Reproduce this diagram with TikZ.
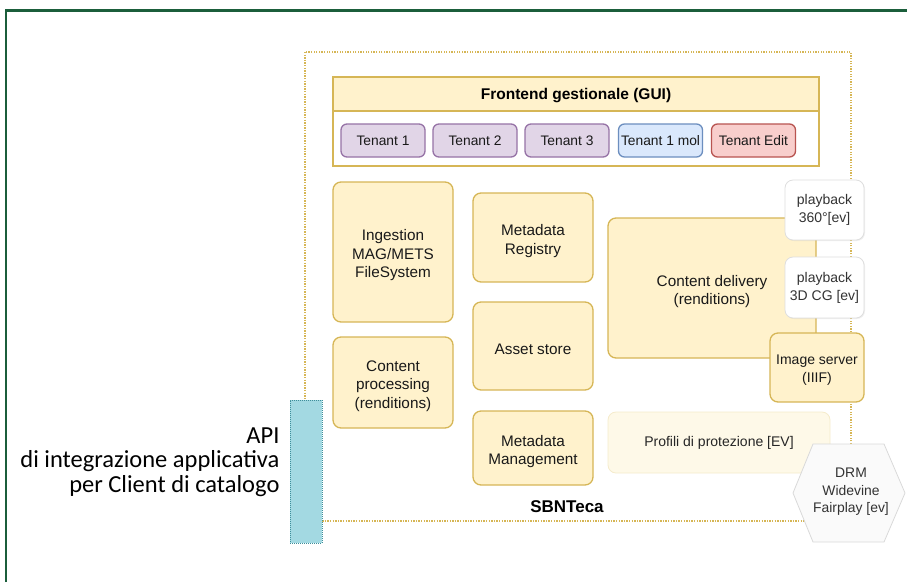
\documentclass[tikz,border=0pt]{standalone}
\usepackage{fontspec}
\setmainfont{Liberation Sans}
\newfontfamily\calibfont{Carlito}
\usetikzlibrary{shadows}
\definecolor{yfill}{HTML}{FFF2CC}
\definecolor{ybord}{HTML}{D6B656}
\definecolor{pfill}{HTML}{E1D5E7}
\definecolor{pbord}{HTML}{9673A6}
\definecolor{bfill}{HTML}{DAE8FC}
\definecolor{bbord}{HTML}{6C8EBF}
\definecolor{rfill}{HTML}{F8CECC}
\definecolor{rbord}{HTML}{B85450}
\definecolor{gframe}{HTML}{1B5E3B}
\definecolor{apifill}{HTML}{A3D9E2}
\definecolor{apibord}{HTML}{3E8E9A}
\definecolor{lfill}{HTML}{FEF9E8}
\definecolor{lbord}{HTML}{F5EBCB}
\begin{document}
\begin{tikzpicture}[x=1pt,y=-1pt,
  ybox/.style={draw=ybord, fill=yfill, rounded corners=8pt, line width=1.3pt, inner sep=0pt},
  ytext/.style={align=center, inner sep=0pt, font=\fontsize{15.3}{18.5}\selectfont, text=black!90,
    shift={(0,3.5)}},
  tenant/.style={rounded corners=6pt, line width=1.3pt, minimum width=84, minimum height=33,
    inner sep=0pt, font=\fontsize{13.8}{16}\selectfont, text=black!90},
  wbox/.style={draw=black!13, fill=white, rounded corners=8pt, line width=0.8pt, align=center,
    inner sep=0pt, minimum width=79, font=\fontsize{14}{18}\selectfont, text=black!80,
    drop shadow={opacity=0.12, shadow xshift=1pt, shadow yshift=-1pt}},
  dotline/.style={draw=ybord, line width=1.3pt, dash pattern=on 1.3pt off 1.3pt}
]
\useasboundingbox (0,0) rectangle (907,582);

% green frame
\coordinate (gtl) at (6,10.5);
\coordinate (gtr) at (907,10.5);
\coordinate (gbl) at (6,582);
\draw[gframe, line width=2.8pt] (gbl) -- (gtl) -- (gtr);

% SBNTeca dotted container
\coordinate (sbA) at (305,52);
\coordinate (sbB) at (851,521);
\draw[dotline] (sbA) rectangle (sbB);
\node[font=\bfseries\fontsize{17}{19}\selectfont] (sbn) at (567,507) {SBNTeca};

% Frontend
\node[draw=ybord, fill=white, line width=1.6pt, minimum width=486, minimum height=89, inner sep=0pt] (fe) at (576,121.5) {};
\node[draw=ybord, fill=yfill, line width=1.6pt, minimum width=486, minimum height=34, inner sep=0pt,
  anchor=north] (feh) at (fe.north) {};
\node[font=\bfseries\fontsize{15.5}{18}\selectfont, shift={(0,2)}] (feht) at (feh.center) {Frontend gestionale (GUI)};
\node[tenant, draw=pbord, fill=pfill] (t1) at (383,140.5) {Tenant 1};
\node[tenant, draw=pbord, fill=pfill] (t2) at (475,140.5) {Tenant 2};
\node[tenant, draw=pbord, fill=pfill] (t3) at (567,140.5) {Tenant 3};
\node[tenant, draw=bbord, fill=bfill] (t4) at (660.5,140.5) {Tenant 1 mol};
\node[tenant, draw=rbord, fill=rfill] (t5) at (753.5,140.5) {Tenant Edit};

% left column
\node[ybox, minimum width=120, minimum height=140] (ing) at (393,252) {};
\node[ytext] (ingt) at (ing.center) {Ingestion\\MAG/METS\\FileSystem};
\node[ybox, minimum width=120, minimum height=91] (cp) at (393,382.5) {};
\node[ytext] (cpt) at (cp.center) {Content\\processing\\(renditions)};

% middle column
\node[ybox, minimum width=120, minimum height=89] (mr) at (533,237.5) {};
\node[ytext] (mrt) at (mr.center) {Metadata\\Registry};
\node[ybox, minimum width=120, minimum height=88] (as) at (533,346) {};
\node[ytext] (ast) at (as.center) {Asset store};
\node[ybox, minimum width=120, minimum height=74] (mm) at (533,448) {};
\node[ytext] (mmt) at (mm.center) {Metadata\\Management};

% content delivery
\node[ybox, minimum width=208, minimum height=140] (cd) at (712,288) {};
\node[ytext] (cdt) at (cd.center) {Content delivery\\(renditions)};
\node[wbox, minimum height=60] (p360) at (824.5,210) {playback\\360°[ev]};
\node[wbox, minimum height=61] (p3d) at (824.5,287.5) {playback\\3D CG [ev]};
\node[ybox, minimum width=94, minimum height=69] (iiif) at (817,367.5) {};
\node[ytext, font=\fontsize{14}{18.5}\selectfont, shift={(0,-1)}] (iiift) at (iiif.center) {Image server\\(IIIF)};

% profili
\node[draw=lbord, fill=lfill, rounded corners=8pt, line width=0.8pt, minimum width=222, minimum height=61,
  inner sep=0pt, font=\fontsize{14}{16}\selectfont, text=black!85] (prof) at (719,442.5) {Profili di protezione [EV]};

% DRM hexagon
\coordinate (h1) at (793,493);
\coordinate (h2) at (813,444);
\coordinate (h3) at (884,444);
\coordinate (h4) at (905,493);
\coordinate (h5) at (884,542);
\coordinate (h6) at (813,542);
\draw[draw=black!15, fill=black!2, line width=0.8pt] (h1) -- (h2) -- (h3) -- (h4) -- (h5) -- (h6) -- cycle;
\node[align=center, font=\fontsize{13.9}{17.5}\selectfont, text=black!80] (drm) at (851,492) {DRM\\Widevine\\Fairplay [ev]};

% API bar
\node[draw=apibord, fill=apifill, line width=1pt, dash pattern=on 1pt off 1pt, minimum width=32, minimum height=143,
  inner sep=0pt] (api) at (306,471.5) {};
\node[anchor=east, align=right, font=\calibfont\fontsize{24.5}{24.5}\selectfont] (apit) at (283,462)
  {API\\di integrazione applicativa\\per Client di catalogo};
\end{tikzpicture}
\end{document}
